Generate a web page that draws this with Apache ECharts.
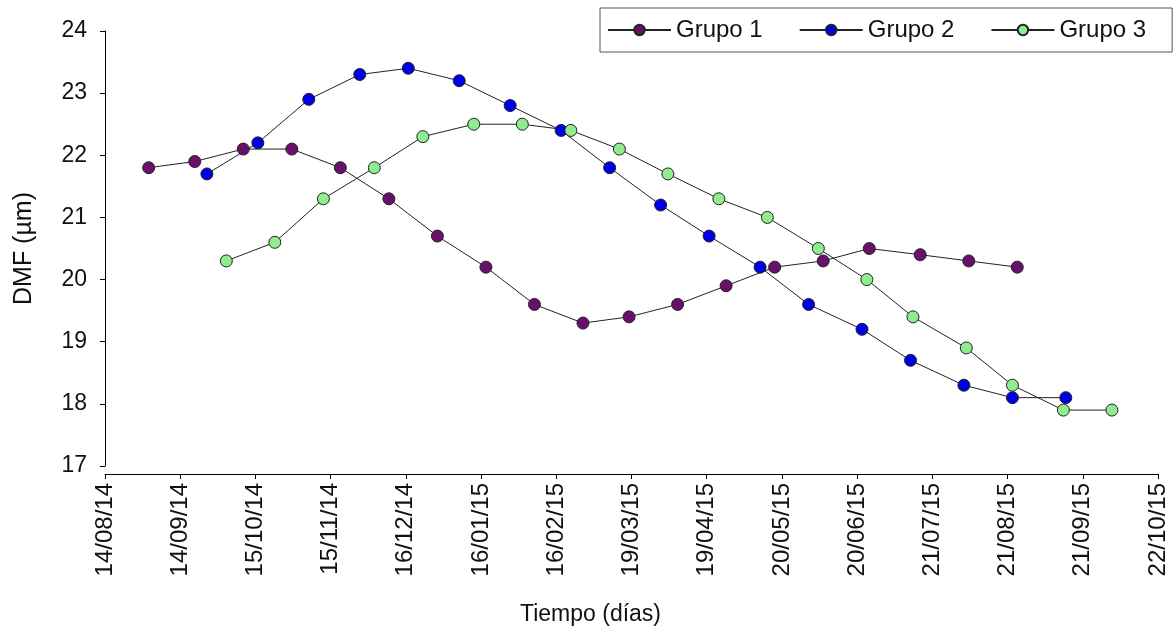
<!DOCTYPE html>
<html>
<head>
<meta charset="utf-8">
<title>DMF</title>
<script src="https://cdn.jsdelivr.net/npm/echarts@6/dist/echarts.min.js"></script>
<style>
  html, body { margin: 0; padding: 0; background: #fff; }
  #chart1 { width: 1175px; height: 631px; }
</style>
</head>
<body>
<div id="chart1"></div>
<script>
// days counted from 14/08/14, ticks every 31 days
const tickLabels = ['14/08/14', '14/09/14', '15/10/14', '15/11/14', '16/12/14', '16/01/15', '16/02/15',
  '19/03/15', '19/04/15', '20/05/15', '20/06/15', '21/07/15', '21/08/15', '21/09/15', '22/10/15'];
const tickStep = 31;

const grupo1Dias = [18, 37, 57, 77, 97, 117, 137, 157, 177, 197, 216, 236, 256, 276, 296, 315, 336, 356, 376];
const grupo1DMF = [21.8, 21.9, 22.1, 22.1, 21.8, 21.3, 20.7, 20.2, 19.6, 19.3, 19.4, 19.6, 19.9, 20.2, 20.3, 20.5, 20.4, 20.3, 20.2];

const grupo2Dias = [42, 63, 84, 105, 125, 146, 167, 188, 208, 229, 249, 270, 290, 312, 332, 354, 374, 396];
const grupo2DMF = [21.7, 22.2, 22.9, 23.3, 23.4, 23.2, 22.8, 22.4, 21.8, 21.2, 20.7, 20.2, 19.6, 19.2, 18.7, 18.3, 18.1, 18.1];

const grupo3Dias = [50, 70, 90, 111, 131, 152, 172, 192, 212, 232, 253, 273, 294, 314, 333, 355, 374, 395, 415];
const grupo3DMF = [20.3, 20.6, 21.3, 21.8, 22.3, 22.5, 22.5, 22.4, 22.1, 21.7, 21.3, 21.0, 20.5, 20.0, 19.4, 18.9, 18.3, 17.9, 17.9];

const font = 'Liberation Sans, Arial, sans-serif';

function pares(dias, vals) {
  return dias.map((d, i) => [d, vals[i]]);
}

function serie(name, color, dias, vals) {
  return {
    name: name,
    type: 'line',
    data: pares(dias, vals),
    symbol: 'circle',
    symbolSize: 12,
    itemStyle: { color: color, borderColor: '#222', borderWidth: 1 },
    lineStyle: { color: '#222', width: 1 },
    animation: false
  };
}

const chart = echarts.init(document.getElementById('chart1'));
chart.setOption({
  backgroundColor: '#fff',
  textStyle: { fontFamily: font },
  legend: {
    left: 600,
    top: 8,
    padding: [10, 26, 10, 7],
    itemWidth: 63,
    itemHeight: 13,
    itemGap: 36,
    borderColor: '#555',
    borderWidth: 1,
    textStyle: { fontSize: 24, color: '#111', fontFamily: font }
  },
  grid: { left: 105, right: 17, top: 31, bottom: 163 },
  xAxis: {
    type: 'value',
    min: 0,
    max: tickStep * (tickLabels.length - 1),
    interval: tickStep,
    offset: 8,
    name: 'Tiempo (días)',
    nameLocation: 'middle',
    nameGap: 129,
    nameTextStyle: { fontSize: 23, color: '#111', fontFamily: font, padding: [0, 82, 0, 0] },
    axisLine: { lineStyle: { color: '#000', width: 1 } },
    axisTick: { length: 5, lineStyle: { color: '#000' } },
    splitLine: { show: false },
    axisLabel: {
      rotate: 90,
      margin: 9,
      fontSize: 24,
      color: '#111',
      fontFamily: font,
      formatter: v => tickLabels[Math.round(v / tickStep)]
    }
  },
  yAxis: {
    type: 'value',
    min: 17,
    max: 24,
    interval: 1,
    offset: 8,
    name: 'DMF (µm)',
    nameLocation: 'middle',
    nameGap: 60,
    nameTextStyle: { fontSize: 25, color: '#111', fontFamily: font },
    axisLine: { show: true, lineStyle: { color: '#000', width: 1 } },
    axisTick: { show: true, length: 5, lineStyle: { color: '#000' } },
    splitLine: { show: false },
    axisLabel: { margin: 10, fontSize: 23, color: '#111', fontFamily: font }
  },
  series: [
    serie('Grupo 1', '#6a0f6a', grupo1Dias, grupo1DMF),
    serie('Grupo 2', '#0000e6', grupo2Dias, grupo2DMF),
    serie('Grupo 3', '#8fec8f', grupo3Dias, grupo3DMF)
  ]
});
</script>
</body>
</html>
